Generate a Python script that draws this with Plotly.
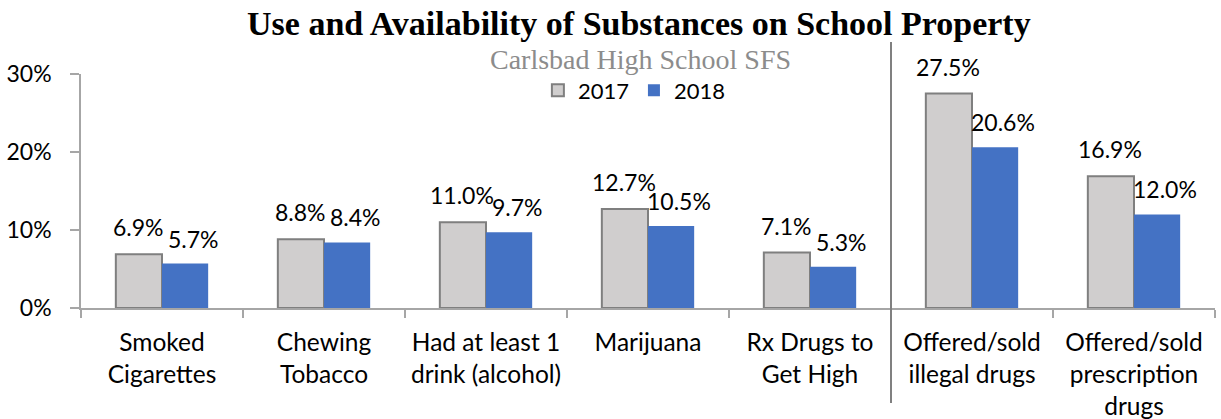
import plotly.graph_objects as go

# Survey items and percentages by year
categories = [
    "Smoked<br>Cigarettes",
    "Chewing<br>Tobacco",
    "Had at least 1<br>drink (alcohol)",
    "Marijuana",
    "Rx Drugs to<br>Get High",
    "Offered/sold<br>illegal drugs",
    "Offered/sold<br>prescription<br>drugs",
]
pct_2017 = [6.9, 8.8, 11.0, 12.7, 7.1, 27.5, 16.9]
pct_2018 = [5.7, 8.4, 9.7, 10.5, 5.3, 20.6, 12.0]
y_ticks = [0, 10, 20, 30]

FONT = "Lato"
GRAY = "#d0cece"
GRAY_EDGE = "#7f7f7f"
BLUE = "#4472c4"
AXIS = "#a6a6a6"
LABEL_SIZE = 23

fig = go.Figure()
fig.add_trace(go.Bar(
    name="2017", x=categories, y=pct_2017,
    marker=dict(color=GRAY, line=dict(color=GRAY_EDGE, width=2)),
))
fig.add_trace(go.Bar(
    name="2018", x=categories, y=pct_2018,
    marker=dict(color=BLUE, line=dict(width=0)),
))

# value labels above each bar
annotations = []
for cat, v in zip(categories, pct_2017):
    annotations.append(dict(
        x=cat, y=v, xref="x", yref="y", text=f"{v:.1f}%", showarrow=False,
        xanchor="center", yanchor="bottom", xshift=-24, yshift=11,
        font=dict(family=FONT, size=LABEL_SIZE, color="black"),
    ))
for cat, v in zip(categories, pct_2018):
    annotations.append(dict(
        x=cat, y=v, xref="x", yref="y", text=f"{v:.1f}%", showarrow=False,
        xanchor="center", yanchor="bottom", xshift=31, yshift=9,
        font=dict(family=FONT, size=LABEL_SIZE, color="black"),
    ))

# title and subtitle
annotations.append(dict(
    x=0.4925, y=1.0, xref="paper", yref="paper", yanchor="bottom",
    xanchor="center", yshift=30, showarrow=False,
    text="<b>Use and Availability of Substances on School Property</b>",
    font=dict(family="Liberation Serif", size=34, color="black"),
))
annotations.append(dict(
    x=0.493, y=1.0, xref="paper", yref="paper", yanchor="bottom",
    xanchor="center", yshift=-3, showarrow=False,
    text="Carlsbad High School SFS",
    font=dict(family="Liberation Serif", size=28, color="#8c8c8c"),
))

fig.update_layout(
    width=1221, height=419,
    margin=dict(l=81, r=6, t=74, b=111),
    paper_bgcolor="white", plot_bgcolor="white",
    barmode="group", bargap=0.43, bargroupgap=0,
    font=dict(family=FONT, size=22, color="black"),
    showlegend=True,
    legend=dict(
        orientation="h", x=0.488, xanchor="center", y=0.93, yanchor="middle",
        font=dict(family=FONT, size=22, color="black"),
        bgcolor="rgba(0,0,0,0)", itemsizing="constant",
        traceorder="normal", yref="paper",
    ),
    annotations=annotations,
    shapes=[dict(
        type="line", xref="x", yref="paper", x0=4.5, x1=4.5,
        y0=-0.406, y1=1.137, line=dict(color="#808080", width=2),
    )],
)

fig.update_xaxes(
    type="category", showline=True, linecolor=AXIS, linewidth=1.5,
    ticks="outside", tickson="boundaries", ticklen=8, tickcolor=AXIS,
    tickwidth=1.5, showgrid=False, ticklabelstandoff=12, automargin=False,
    tickfont=dict(family=FONT, size=24.5, color="black"),
)
fig.update_yaxes(
    range=[0, 30], tickvals=y_ticks, ticktext=[f"{t}%" for t in y_ticks],
    showline=True, linecolor=AXIS, linewidth=1.5, ticks="outside",
    ticklen=9, tickcolor=AXIS, tickwidth=1.5, showgrid=False,
    zeroline=False, ticklabelstandoff=14, automargin=False,
    tickfont=dict(family=FONT, size=23, color="black"),
)

fig.write_html("out.html")
